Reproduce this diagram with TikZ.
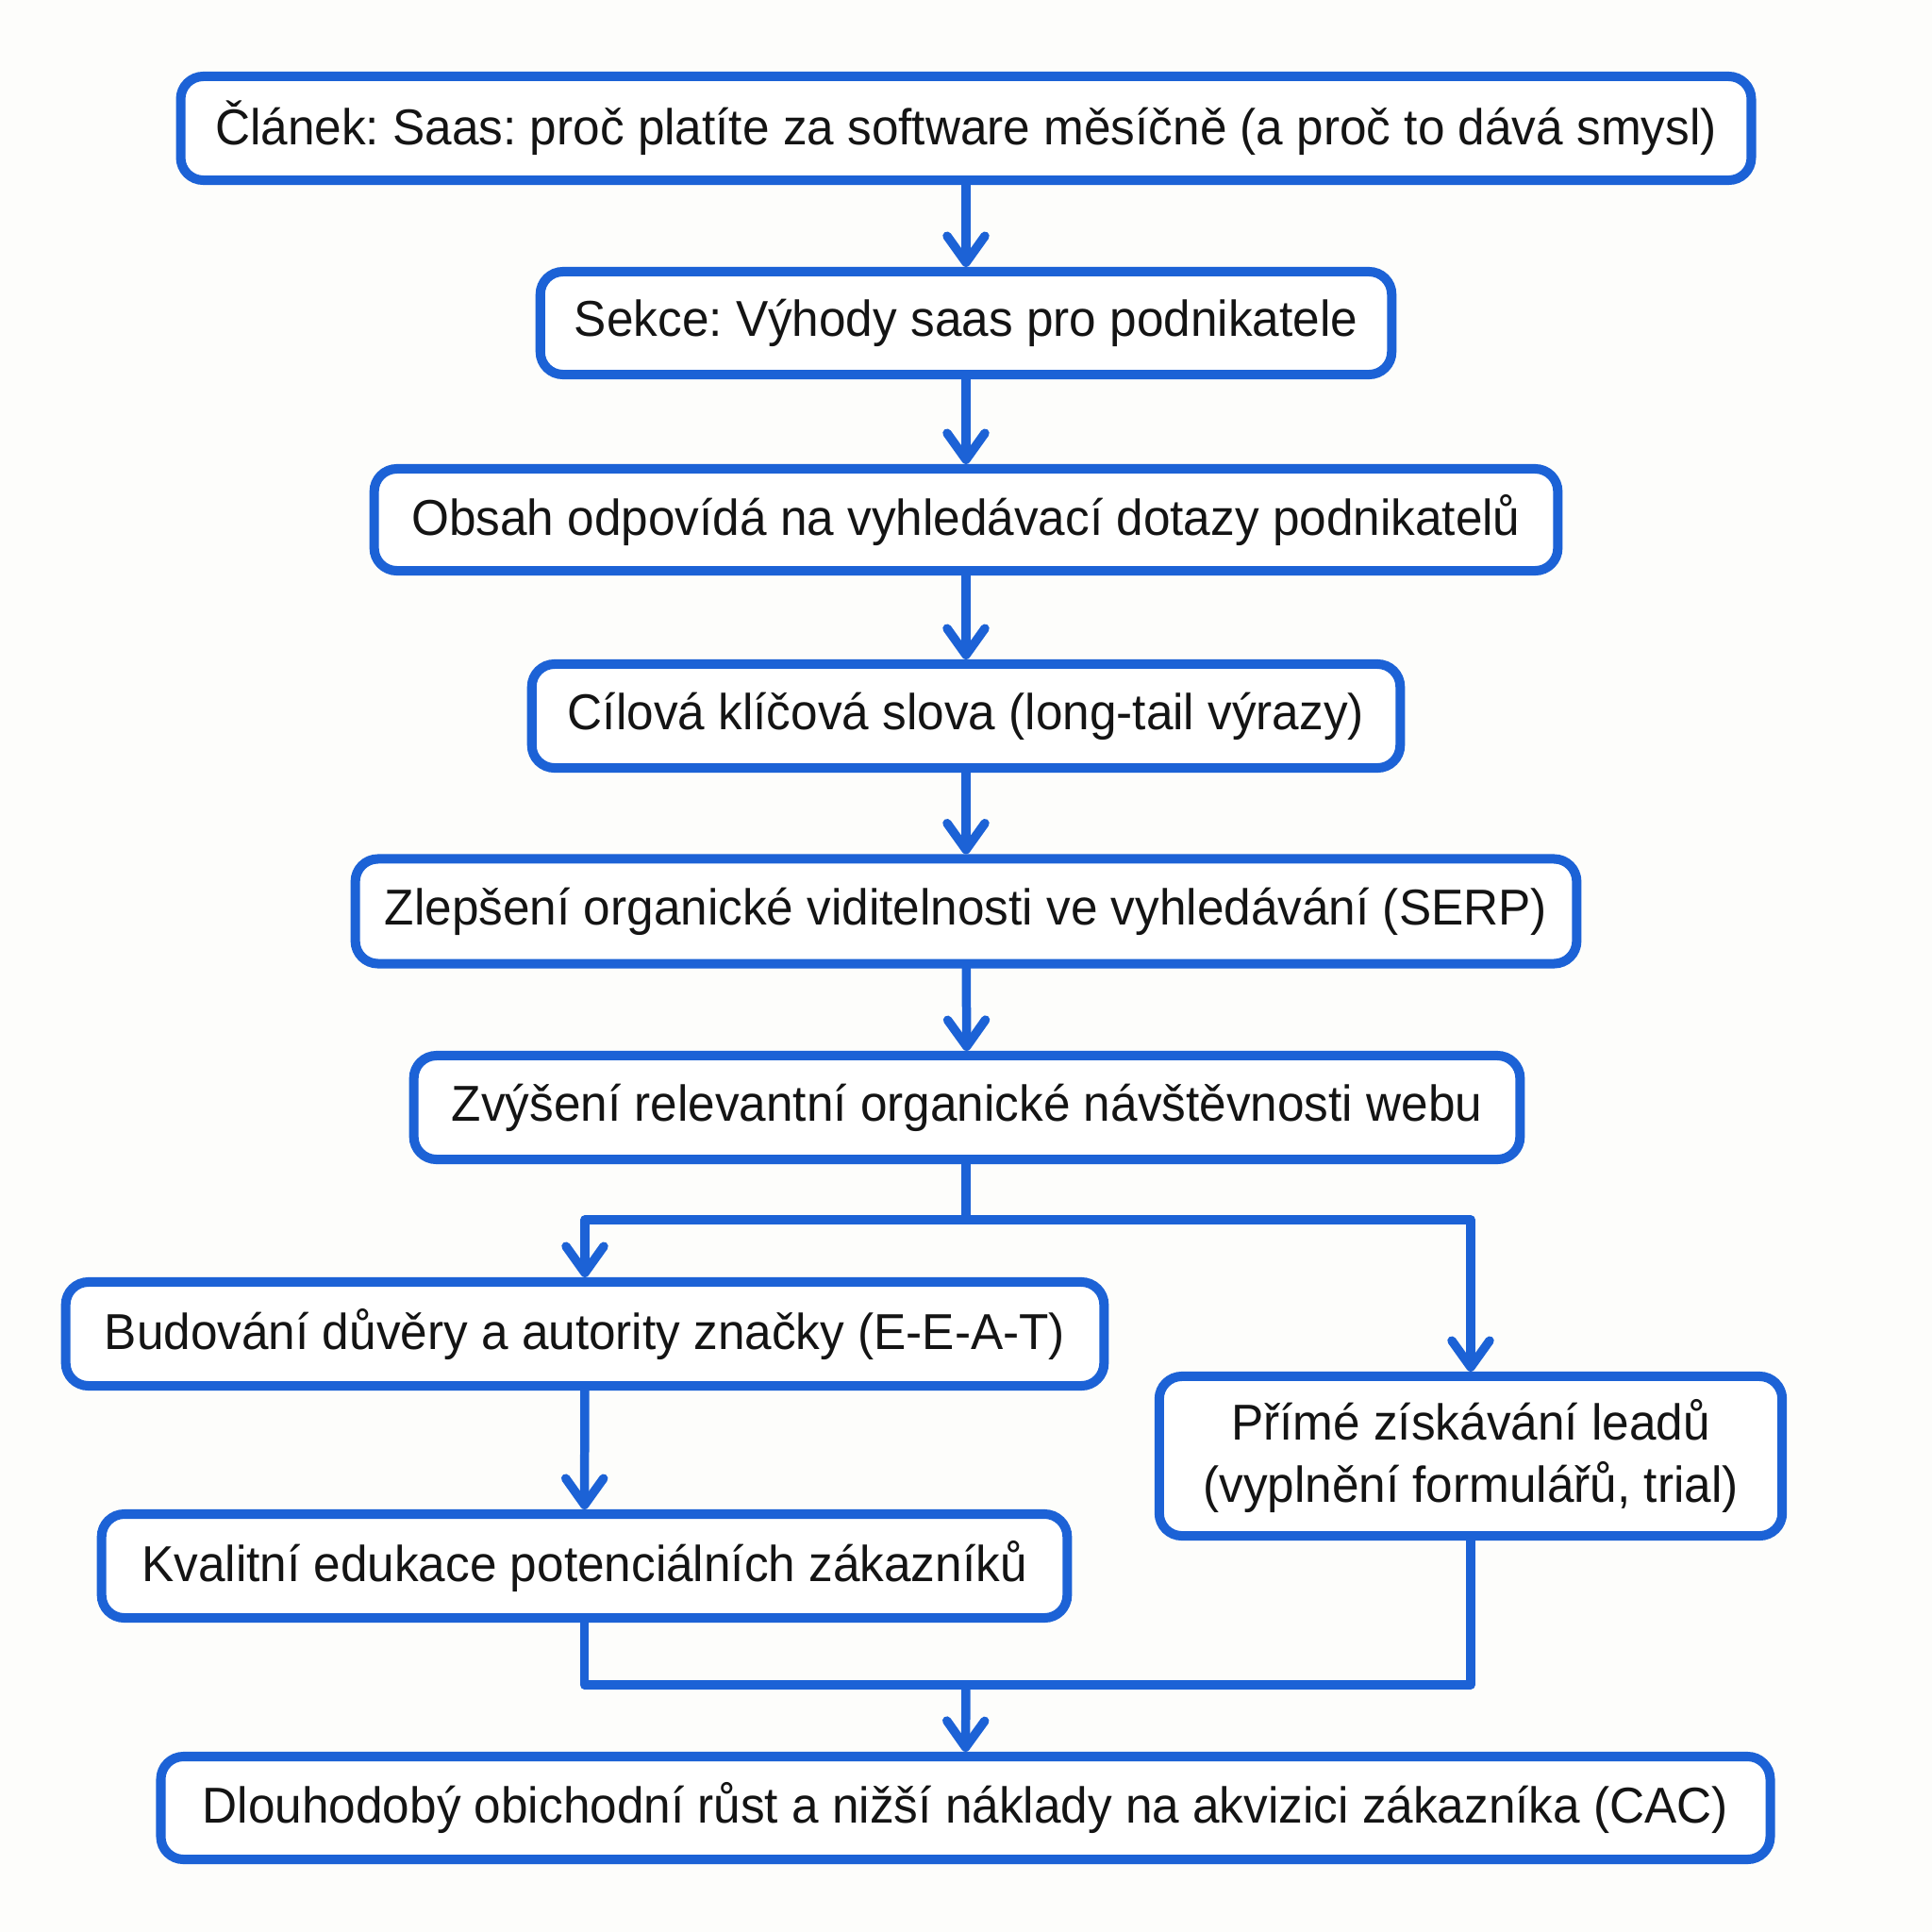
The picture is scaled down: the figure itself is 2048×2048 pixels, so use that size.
\documentclass[tikz,border=0pt]{standalone}
\usepackage{fontspec}
\setmainfont{Liberation Sans}[FakeStretch=0.96]
\frenchspacing
\usetikzlibrary{arrows.meta}
\definecolor{bblue}{HTML}{1C62D6}
\definecolor{bgcol}{HTML}{FDFDFB}
\tikzset{
  box/.style={draw=bblue, line width=2.85pt, rounded corners=0.24cm, fill=white,
    inner sep=0pt, align=center, font=\fontsize{15.2pt}{18.6pt}\selectfont, text=black!92},
  conn/.style={draw=bblue, line width=2.7pt, line cap=round, line join=round},
  arr/.style={conn, -{Straight Barb[length=0.28cm, width=0.40cm, line cap=round, line join=round]}},
}
\begin{document}
\begin{tikzpicture}[x=0.01cm, y=-0.01cm]
\fill[bgcol] (0,0) rectangle (2048,2048);
\useasboundingbox (0,0) rectangle (2048,2048);
\node[box, minimum width=16.64cm, minimum height=1.10cm] (a) at (1024,136) {Článek: Saas: proč platíte za software měsíčně (a proč to dává smysl)};
\node[box, minimum width=9.02cm, minimum height=1.09cm] (b) at (1024,342.5) {Sekce: Výhody saas pro podnikatele};
\node[box, minimum width=12.54cm, minimum height=1.08cm] (c) at (1024,551) {Obsah odpovídá na vyhledávací dotazy podnikatelů};
\node[box, minimum width=9.20cm, minimum height=1.10cm] (d) at (1024,759) {Cílová klíčová slova (long-tail výrazy)};
\node[box, minimum width=12.94cm, minimum height=1.11cm] (e) at (1024,966) {Zlepšení organické viditelnosti ve vyhledávání (SERP)};
\node[box, minimum width=11.72cm, minimum height=1.10cm] (f) at (1025,1174) {Zvýšení relevantní organické návštěvnosti webu};
\node[box, minimum width=11.00cm, minimum height=1.10cm] (g) at (620,1414) {Budování důvěry a autority značky (E-E-A-T)};
\node[box, minimum width=10.23cm, minimum height=1.10cm] (h) at (619.5,1660) {Kvalitní edukace potenciálních zákazníků};
\node[box, minimum width=6.60cm, minimum height=1.69cm] (i) at (1559,1543.5) {Přímé získávání leadů\\(vyplnění formulářů, trial)};
\node[box, minimum width=17.05cm, minimum height=1.09cm] (j) at (1023.5,1916.5) {Dlouhodobý obichodní růst a nižší náklady na akvizici zákazníka (CAC)};

\coordinate (s1) at (1024,1293);
\coordinate (m1) at (1024,1786);
\draw[arr] (a) -- (b);
\draw[arr] (b) -- (c);
\draw[arr] (c) -- (d);
\draw[arr] (d) -- (e);
\draw[arr] (e) -- (f);
\draw[conn] (f.south -| s1) -- (s1);
\draw[arr] (s1) -| (g.north);
\draw[arr] (s1) -| (i.north);
\draw[arr] (g) -- (h);
\draw[conn] (h.south) |- (m1);
\draw[conn] (i.south) |- (m1);
\draw[arr] (m1) -- (j.north);
\end{tikzpicture}
\end{document}
